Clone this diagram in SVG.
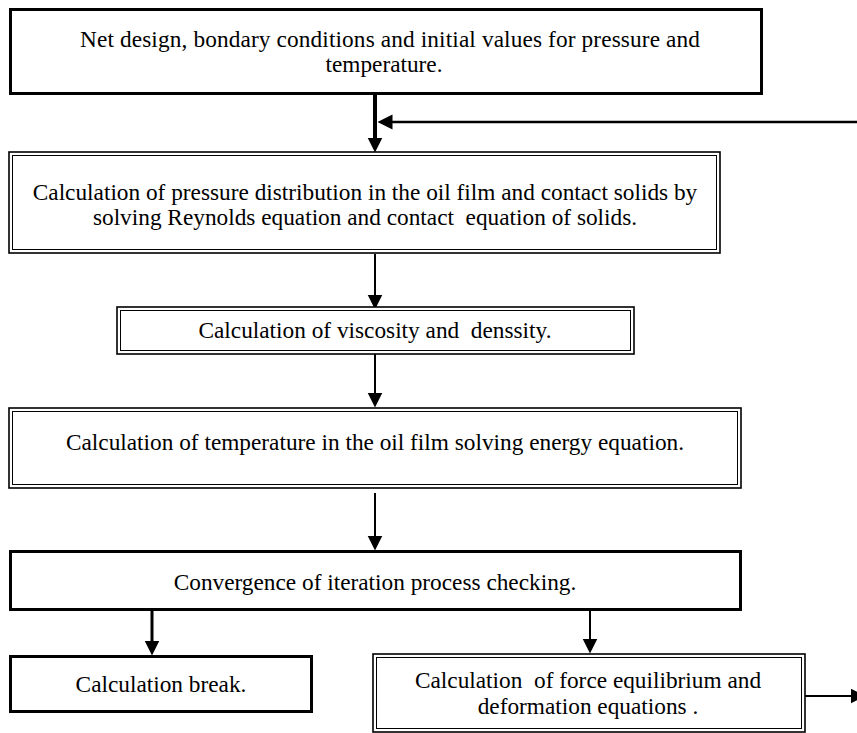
<svg xmlns="http://www.w3.org/2000/svg" width="857" height="733" viewBox="0 0 857 733">
<style>
.t{font-family:"Liberation Serif","Times New Roman",serif;font-size:23.3px;fill:#000;text-anchor:middle;white-space:pre}
.thick{fill:#fff;stroke:#000;stroke-width:3}
.dout{fill:#fff;stroke:#000;stroke-width:1.6}
.din{fill:none;stroke:#000;stroke-width:1}
.c{stroke:#000;fill:none}
</style>
<defs>
<marker id="ah" markerUnits="userSpaceOnUse" markerWidth="16" markerHeight="16" refX="0.5" refY="7.5" orient="auto">
<path d="M0,0 L15,7.5 L0,15 z" fill="#000"/>
</marker>
</defs>
<rect width="857" height="733" fill="#fff"/>
<g id="connectors">
<line class="c" x1="375" y1="94" x2="375" y2="138" stroke-width="4" marker-end="url(#ah)"/>
<line class="c" x1="857" y1="122" x2="392" y2="122" stroke-width="2.5" marker-end="url(#ah)"/>
<line class="c" x1="375" y1="254" x2="375" y2="295" stroke-width="2" marker-end="url(#ah)"/>
<line class="c" x1="375" y1="354" x2="375" y2="393" stroke-width="2" marker-end="url(#ah)"/>
<line class="c" x1="375" y1="493" x2="375" y2="536" stroke-width="2" marker-end="url(#ah)"/>
<line class="c" x1="152" y1="611" x2="152" y2="641" stroke-width="3" marker-end="url(#ah)"/>
<line class="c" x1="590" y1="611" x2="590" y2="639" stroke-width="2" marker-end="url(#ah)"/>
<line class="c" x1="805" y1="696" x2="851" y2="696" stroke-width="2" marker-end="url(#ah)"/>
</g>
<g id="n1">
<rect class="thick" x="10.5" y="9.5" width="751" height="84"/>
<text class="t" x="390" y="47" textLength="620" lengthAdjust="spacing">Net design, bondary conditions and initial values for pressure and</text>
<text class="t" x="384" y="72">temperature.</text>
</g>
<g id="n2">
<rect class="dout" x="9" y="152" width="711" height="101"/>
<rect class="din" x="12.5" y="155.5" width="704" height="94"/>
<text class="t" x="365" y="200">Calculation of pressure distribution in the oil film and contact solids by</text>
<text class="t" x="365" y="225">solving Reynolds equation and contact  equation of solids.</text>
</g>
<g id="n3">
<rect class="dout" x="117" y="307" width="517" height="47"/>
<rect class="din" x="120.5" y="310.5" width="510" height="40"/>
<text class="t" x="375" y="338">Calculation of viscosity and  denssity.</text>
</g>
<g id="n4">
<rect class="dout" x="9" y="408" width="732" height="80"/>
<rect class="din" x="12.5" y="411.5" width="725" height="73"/>
<text class="t" x="375" y="450">Calculation of temperature in the oil film solving energy equation.</text>
</g>
<g id="n5">
<rect class="thick" x="10.5" y="551.5" width="730" height="58"/>
<text class="t" x="375" y="590">Convergence of iteration process checking.</text>
</g>
<g id="n6">
<rect class="thick" x="10.5" y="656.5" width="301" height="55"/>
<text class="t" x="161" y="692">Calculation break.</text>
</g>
<g id="n7">
<rect class="dout" x="373" y="654" width="432" height="78"/>
<rect class="din" x="376.5" y="657.5" width="425" height="71"/>
<text class="t" x="588" y="688">Calculation  of force equilibrium and</text>
<text class="t" x="588" y="714">deformation equations .</text>
</g>
</svg>
